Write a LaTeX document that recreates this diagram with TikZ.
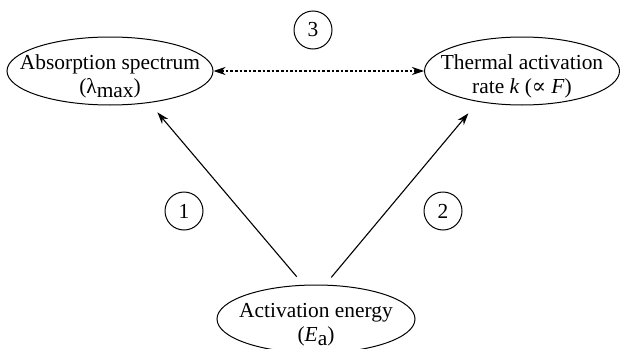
\documentclass[tikz,border=0pt]{standalone}
\usepackage{fontspec}
\setmainfont{Liberation Serif}
\newfontfamily\symfont{DejaVu Serif}
\usetikzlibrary{shapes.geometric,arrows.meta}
\newcommand{\lowtop}{\rule{0pt}{12.5pt}}

\begin{document}
\begin{tikzpicture}
  [x=0.5pt,y=-0.5pt,
   every node/.style={font=\fontsize{10.7}{11.8}\selectfont,align=center,inner sep=0pt},
   bubble/.style={ellipse,draw,line width=0.5pt,minimum height=34pt,inner xsep=-30pt,inner ysep=-12pt},
   num/.style={circle,draw,line width=0.5pt,minimum size=19pt},
   arr/.style={-{Stealth[length=6pt,width=4pt]},line width=0.55pt}]
  \useasboundingbox (0,0) rectangle (620,348);
  \node[bubble,minimum width=103pt] (abs) at (110,71) {\lowtop Absorption spectrum\\(λ\smash{\raisebox{-0.45ex}{max}})};
  \node[bubble,minimum width=97.5pt] (thr) at (522,71) {\lowtop Thermal activation\\rate \textit{k} ({\symfont\fontsize{10.5}{10}\selectfont ∝} \textit{F})};
  \node[bubble,minimum width=99pt] (ea) at (316,319) {\lowtop Activation energy\\(\textit{E}\smash{\raisebox{-0.45ex}{a}})};
  \node[num] (c1) at (184,211) {1};
  \node[num] (c2) at (443,211) {2};
  \node[num] (c3) at (313,30) {3};

  \draw[arr,shorten <=5.3pt,shorten >=6.2pt] (ea.110) -- (abs.-39);
  \draw[arr,shorten <=4.7pt,shorten >=7.5pt] (ea.75) -- (thr.-145);
  \draw[{Stealth[length=6pt,width=4pt]}-{Stealth[length=6pt,width=4pt]},line width=0.55pt,dash pattern=on 1.3pt off 1pt] (abs) -- (thr);

\end{tikzpicture}
\end{document}
